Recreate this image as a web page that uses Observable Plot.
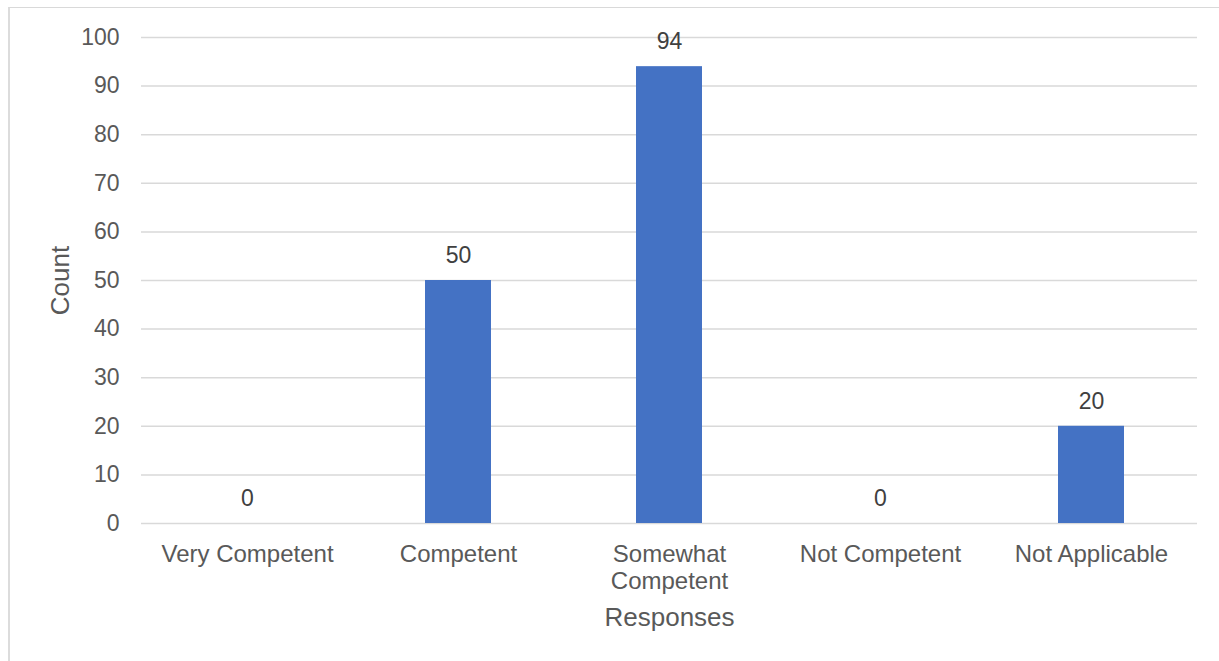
<!DOCTYPE html>
<html>
<head>
<meta charset="utf-8">
<script src="https://cdn.jsdelivr.net/npm/d3@7"></script>
<script src="https://cdn.jsdelivr.net/npm/@observablehq/plot@0.6"></script>
<style>
  html, body { margin: 0; padding: 0; background: #fff; overflow: hidden; }
  #wrap { position: relative; width: 1219px; height: 661px; }
  #border {
    position: absolute; left: 8px; top: 7px; width: 1240px; height: 700px;
    border-left: 2px solid #dcdcdc; border-top: 1px solid #d9d9d9;
    pointer-events: none;
  }
  svg { font-family: "Liberation Sans", Arial, sans-serif; }
</style>
</head>
<body>
<div id="wrap"><div id="border"></div></div>
<script>
// Survey responses and their counts
const categories = ["Very Competent", "Competent", "Somewhat Competent", "Not Competent", "Not Applicable"];
const counts = [0, 50, 94, 0, 20];
const yTicks = [0, 10, 20, 30, 40, 50, 60, 70, 80, 90, 100];

// Category labels that wrap onto two lines
const tickLabels = {"Somewhat Competent": "Somewhat\nCompetent"};

const data = categories.map((c, i) => ({category: c, count: counts[i]}));

const chart = Plot.plot({
  width: 1219,
  height: 661,
  marginLeft: 141,
  marginRight: 22,
  marginTop: 37,
  marginBottom: 138,
  style: {fontFamily: '"Liberation Sans", Arial, sans-serif', background: "transparent"},
  x: {domain: categories, paddingInner: 0.6875, paddingOuter: 0.34375, label: null},
  y: {domain: [0, 100], label: null},
  marks: [
    Plot.gridY(yTicks, {stroke: "#d9d9d9", strokeOpacity: 1, strokeWidth: 1.5}),
    Plot.barY(data, {x: "category", y: "count", fill: "#4472C4"}),
    Plot.text(data, {
      x: "category", y: "count", text: d => String(d.count),
      dy: -25, fontSize: 23, fill: "#404040"
    }),
    Plot.axisY({
      ticks: yTicks, tickSize: 0, tickPadding: 22, fontSize: 23,
      color: "#595959", label: null
    }),
    Plot.axisX({
      tickSize: 0, tickPadding: 20, fontSize: 24, lineHeight: 1.11,
      color: "#595959", label: null,
      tickFormat: d => tickLabels[d] ?? d
    }),
    Plot.text(["Count"], {
      frameAnchor: "left", dx: -81, rotate: -90, fontSize: 26, fill: "#595959",
      textAnchor: "middle", lineAnchor: "middle"
    }),
    Plot.text(["Responses"], {
      frameAnchor: "bottom", dy: 94, fontSize: 26, fill: "#595959",
      textAnchor: "middle", lineAnchor: "middle"
    })
  ]
});

document.getElementById("wrap").prepend(chart);
</script>
</body>
</html>
